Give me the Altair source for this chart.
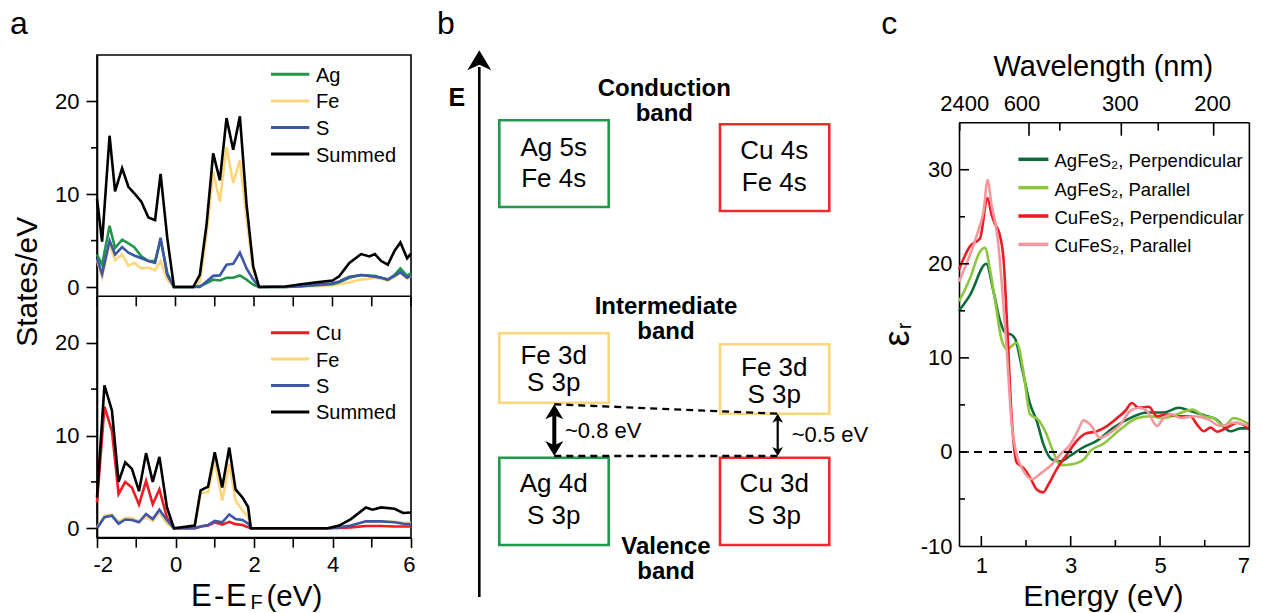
import altair as alt
import pandas as pd

FONT = "Liberation Sans"
ONE = pd.DataFrame({"k": [0]})

# ---------------- Panel a (top): AgFeS2 density of states ----------------
a1_E = [-2.0, -1.87, -1.68, -1.54, -1.36, -1.2, -1.05, -0.87, -0.69, -0.52, -0.38, -0.21, -0.04,
        0.45, 0.62, 0.79, 0.96, 1.13, 1.3, 1.47, 1.64, 1.81, 1.98, 2.13,
        2.8, 3.2, 3.6, 4.0, 4.17, 4.43, 4.73, 4.94, 5.08, 5.24, 5.41, 5.58, 5.73, 5.9, 6.0]
a1_Sum = [9.5, 4.9, 16.3, 10.3, 12.8, 10.8, 10.1, 9.2, 7.5, 7.2, 12.2, 5.3, 0,
          0, 1.3, 6.7, 14.4, 11.5, 18.2, 14.8, 18.4, 8.9, 2.2, 0,
          0.05, 0.3, 0.5, 0.7, 1.15, 2.6, 3.55, 3.3, 3.55, 2.8, 2.4, 3.9, 4.8, 3.1, 3.6]
a1_Ag = [3.5, 2.4, 6.6, 4.2, 5.1, 4.7, 4.3, 3.3, 2.8, 2.8, 5.1, 1.5, 0,
         0, 0.1, 0.4, 0.8, 0.7, 1.0, 1.0, 1.25, 0.8, 0.25, 0,
         0.0, 0.1, 0.2, 0.3, 0.5, 1.0, 1.3, 1.2, 1.2, 1.0, 0.8, 1.3, 2.0, 1.2, 1.5]
a1_Fe = [2.9, 1.1, 4.6, 2.9, 3.5, 2.3, 2.6, 2.0, 2.1, 1.8, 2.8, 0.8, 0,
         0, 0.6, 5.6, 12.4, 9.2, 15.1, 11.2, 13.7, 7.4, 1.7, 0,
         0.0, 0.05, 0.1, 0.2, 0.3, 0.5, 0.8, 0.9, 1.0, 0.9, 0.7, 1.1, 1.5, 0.9, 1.2]
a1_S = [3.1, 1.4, 5.0, 3.5, 4.3, 3.7, 3.4, 3.1, 2.8, 2.6, 5.3, 1.3, 0,
        0, 0, 0.6, 1.2, 1.25, 2.4, 2.5, 3.7, 2.0, 0.8, 0,
        0.0, 0.1, 0.25, 0.4, 0.6, 1.1, 1.3, 1.2, 1.1, 1.0, 0.8, 1.2, 1.6, 1.0, 1.2]

# ---------------- Panel a (bottom): CuFeS2 density of states ----------------
a2_E = [-2.0, -1.81, -1.62, -1.45, -1.28, -1.11, -0.93, -0.75, -0.58, -0.41, -0.22, -0.04,
        0.49, 0.64, 0.83, 1.0, 1.19, 1.37, 1.53, 1.71, 1.85, 1.92,
        3.88, 4.17, 4.47, 4.85, 5.02, 5.24, 5.58, 5.8, 6.0]
a2_Sum = [3.3, 15.4, 12.7, 5.0, 7.1, 6.4, 4.0, 8.1, 5.0, 7.7, 2.3, 0,
          0.3, 4.1, 4.5, 8.2, 4.4, 8.7, 4.2, 3.3, 2.3, 0,
          0, 0.3, 1.0, 2.25, 2.0, 2.25, 2.1, 1.65, 1.7]
a2_Cu = [2.8, 13.1, 10.5, 3.7, 5.0, 4.4, 2.55, 5.1, 2.6, 4.2, 1.2, 0,
         0, 0.2, 0.3, 0.65, 0.4, 0.7, 0.45, 0.35, 0.1, 0,
         0, 0.05, 0.1, 0.25, 0.25, 0.25, 0.2, 0.2, 0.2]
a2_Fe = [0.1, 1.35, 1.5, 0.7, 1.1, 1.1, 0.8, 1.2, 0.8, 1.7, 0.5, 0,
         0, 3.8, 3.9, 7.3, 3.0, 6.9, 3.0, 1.9, 1.2, 0,
         0, 0.1, 0.3, 0.7, 0.75, 0.75, 0.7, 0.6, 0.6]
a2_S = [0, 1.2, 1.35, 0.5, 0.95, 0.9, 0.65, 1.55, 1.0, 2.0, 0.9, 0,
        0, 0.2, 0.35, 0.8, 0.65, 1.5, 1.0, 0.9, 0.5, 0,
        0, 0.1, 0.3, 0.75, 0.75, 0.75, 0.65, 0.5, 0.45]

a_top_names = ["Ag", "Fe", "S", "Summed"]
a_bot_names = ["Cu", "Fe", "S", "Summed"]
a_colors = {"Ag": "#21964b", "Cu": "#ed1c24", "Fe": "#fdd67c", "S": "#3b57a6", "Summed": "#000000"}

a_xmajor = [-2, 0, 2, 4, 6]
a_xminor = [-1, 1, 3, 5]
a_xall = [-2, -1, 0, 1, 2, 3, 4, 5, 6]
a_ymajor = [0, 10, 20]
a_yminor = [5, 15]

# ---------------- Panel c: dielectric function ----------------
c_names = ["AgFeS\u2082, Perpendicular", "AgFeS\u2082, Parallel",
           "CuFeS\u2082, Perpendicular", "CuFeS\u2082, Parallel"]
c_colors = ["#0b6b39", "#8cc63f", "#ed1c24", "#f4979c"]
c1_E = [0.5, 0.75, 1.11, 1.27, 1.42, 1.55, 1.66, 1.76, 1.91, 2.09, 2.24, 2.39, 2.58, 2.77, 2.99,
        3.29, 3.59, 3.96, 4.33, 4.71, 5.08, 5.42, 5.68, 5.98, 6.24, 6.58, 6.8, 7.0]
c1_eps = [15.0, 16.7, 20.0, 17.1, 13.9, 12.6, 12.5, 12.0, 8.9, 5.1, 3.3, 0.8, -0.8, -1.0, -0.4,
          0.5, 1.2, 2.6, 3.6, 4.2, 4.2, 4.7, 4.35, 3.9, 3.5, 2.2, 2.5, 2.5]
c2_E = [0.5, 0.75, 0.97, 1.08, 1.2, 1.31, 1.46, 1.58, 1.68, 1.79, 1.94, 2.09, 2.28, 2.43, 2.62,
        2.77, 3.03, 3.29, 3.44, 3.74, 4.11, 4.49, 4.78, 5.08, 5.38, 5.72, 5.98, 6.2, 6.43, 6.65, 7.0]
c2_eps = [16.0, 18.5, 21.3, 21.7, 19.2, 16.0, 11.8, 10.9, 11.25, 11.6, 8.6, 4.0, 3.4, 2.2, -0.1,
          -1.4, -1.3, -0.8, 0.1, 0.9, 2.4, 3.6, 3.8, 3.6, 4.0, 4.5, 3.8, 3.6, 2.75, 3.6, 2.9]
c3_E = [0.5, 0.75, 0.97, 1.14, 1.23, 1.31, 1.4, 1.5, 1.58, 1.68, 1.79, 1.94, 2.09, 2.24, 2.38,
        2.51, 2.69, 2.92, 3.14, 3.33, 3.59, 3.81, 4.04, 4.22, 4.37, 4.52, 4.75, 4.93, 5.16, 5.38,
        5.68, 5.83, 5.98, 6.13, 6.28, 6.5, 6.73, 7.0]
c3_eps = [19.4, 21.9, 22.7, 27.0, 25.2, 24.2, 23.3, 20.3, 13.2, 3.6, -1.1, -1.7, -2.7, -4.0, -4.3,
          -3.4, -1.8, -0.25, 1.2, 1.95, 2.2, 2.75, 3.6, 4.35, 5.2, 4.7, 4.8, 3.8, 4.0, 3.8,
          3.8, 2.9, 2.2, 2.6, 2.15, 2.6, 3.1, 2.4]
c4_E = [0.5, 0.75, 0.93, 1.05, 1.14, 1.23, 1.35, 1.46, 1.57, 1.68, 1.79, 1.94, 2.13, 2.35, 2.54,
        2.77, 2.99, 3.14, 3.29, 3.44, 3.66, 3.89, 4.11, 4.33, 4.52, 4.71, 4.93, 5.08, 5.27, 5.46,
        5.76, 6.06, 6.35, 6.65, 7.0]
c4_eps = [18.1, 21.0, 23.5, 25.6, 28.9, 26.2, 23.3, 17.8, 10.7, 2.9, -0.25, -2.0, -2.9, -2.2, -1.5,
          -0.25, 0.8, 2.05, 3.35, 2.9, 1.5, 2.05, 2.9, 4.35, 4.7, 4.35, 2.75, 3.6, 4.0, 3.6,
          3.8, 3.5, 2.75, 3.1, 2.75]
c_series = [(c1_E, c1_eps), (c2_E, c2_eps), (c3_E, c3_eps), (c4_E, c4_eps)]

c_ymajor = [-10, 0, 10, 20, 30]
c_ytick_major = [0, 10, 20, 30]
c_ytick_minor = [-5, 5, 15, 25]
c_xmajor = [1, 3, 5, 7]
c_xtick_major = [1, 3, 5]
c_xtick_minor = [2, 4, 6]
c_wl_labels = [2400, 600, 300, 200]
c_wl_label_dx = [5, -7, -1, -1]
c_wl_tick_major = [600, 300, 200]
c_wl_tick_minor = [2400, 450, 250]

# ---------------- Panel b: band schematic (diagram coordinates) ----------------
b_box_x1 = [498.3, 719.0, 498.3, 719.0, 498.3, 719.0]
b_box_x2 = [607.7, 828.3, 607.7, 828.3, 607.7, 828.3]
b_box_y1 = [119.3, 123.3, 332.3, 343.3, 456.7, 456.7]
b_box_y2 = [206.0, 210.0, 401.7, 412.7, 544.0, 544.0]
b_box_col = ["#1f9a48", "#ee2a2f", "#fcd67a", "#fcd67a", "#1f9a48", "#ee2a2f"]
b_txt = ["Ag 5s", "Fe 4s", "Cu 4s", "Fe 4s", "Fe 3d", "S 3p", "Fe 3d", "S 3p",
         "Ag 4d", "S 3p", "Cu 3d", "S 3p"]
b_txt_x = [552.7, 552.7, 773.3, 773.3, 552.7, 552.7, 773.3, 773.3, 552.7, 552.7, 773.3, 773.3]
b_txt_y = [146.5, 178.2, 149.8, 181.5, 354.8, 382.3, 366.5, 393.7, 483.2, 514.8, 483.2, 514.8]
b_head = ["Conduction", "band", "Intermediate", "band", "Valence", "band"]
b_head_x = [663.3, 663.3, 665.0, 665.0, 665.0, 665.0]
b_head_y = [88.2, 112.8, 306.2, 331.2, 546.2, 570.6]
b_gap = ["~0.8 eV", "~0.5 eV"]
b_gap_x = [564.0, 790.7]
b_gap_y = [430.2, 434.3]
b_dash_x = [553.3, 553.3]
b_dash_y = [403.3, 455.0]
b_dash_x2 = [776.7, 776.7]
b_dash_y2 = [412.7, 455.0]

# ---------------- layout constants ----------------
WA, HS = 314.0, 241.3
HA = 2 * HS
WB, HB = 487.3, 546.0
WC, HC, YT = 290.4, 491.0, 67.7

UP = "M0,-1L1.2,1L0,0.45L-1.2,1Z"
DOWN = "M0,1L1.2,-1L0,-0.45L-1.2,-1Z"


def txt(x, y, s, size, **kw):
    return alt.Chart(ONE).mark_text(text=s, fontSize=size, font=FONT, color="black", **kw).encode(
        x=alt.value(x), y=alt.value(y))


def vrule(x, y1, y2, color="black", width=1.6):
    return alt.Chart(ONE).mark_rule(color=color, strokeWidth=width).encode(
        x=alt.value(x), y=alt.value(y1), y2=alt.value(y2))


def hrule(x1, x2, y, color="black", width=1.6):
    return alt.Chart(ONE).mark_rule(color=color, strokeWidth=width).encode(
        x=alt.value(x1), x2=alt.value(x2), y=alt.value(y))


# ---------------- panel a ----------------
xa = alt.Scale(domain=[-2, 6], nice=False, zero=False)
xaxis_a = alt.Axis(orient="bottom", values=a_xmajor, labelExpr="''+datum.value", tickSize=10,
                   labelPadding=7, labelFlushOffset=4, title=None)


def a_sub(E, series, names, y0, bottom, leg_y0, leg_dy):
    ys = alt.Scale(domain=[-1, 25], range=[y0 + HS, y0], nice=False, zero=False)
    yaxis = alt.Axis(orient="left", values=a_ymajor, labelExpr="''+datum.value", tickSize=11,
                     labelPadding=7, title=None)
    order = [names[1], names[0], names[2], names[3]]
    layers = []
    for nm in order:
        df = pd.DataFrame({"E": E, "v": series[nm]})
        layers.append(alt.Chart(df).mark_line(color=a_colors[nm], strokeWidth=2.6).encode(
            x=alt.X("E:Q", scale=xa, axis=xaxis_a),
            y=alt.Y("v:Q", scale=ys, axis=yaxis)))
    layers.append(alt.Chart(pd.DataFrame({"t": a_yminor})).mark_rule(color="black", strokeWidth=1.6).encode(
        y=alt.Y("t:Q", scale=ys, axis=yaxis), x=alt.value(0), x2=alt.value(-6)))
    if bottom:
        layers.append(alt.Chart(pd.DataFrame({"t": a_xminor})).mark_rule(color="black", strokeWidth=1.6).encode(
            x=alt.X("t:Q", scale=xa, axis=xaxis_a), y=alt.value(HA), y2=alt.value(HA + 10)))
    else:
        layers.append(alt.Chart(pd.DataFrame({"t": a_xall})).mark_rule(color="black", strokeWidth=1.6).encode(
            x=alt.X("t:Q", scale=xa, axis=xaxis_a), y=alt.value(HS), y2=alt.value(HS + 10)))
        layers.append(hrule(0, WA, HS))
    for i, nm in enumerate(names):
        ly = leg_y0 + i * leg_dy
        layers.append(hrule(174, 212.3, ly, color=a_colors[nm], width=3))
        layers.append(txt(219, ly + 1.5, nm, 20, align="left", baseline="middle"))
    return layers


top_series = {"Ag": a1_Ag, "Fe": a1_Fe, "S": a1_S, "Summed": a1_Sum}
bot_series = {"Cu": a2_Cu, "Fe": a2_Fe, "S": a2_S, "Summed": a2_Sum}

top_layers = a_sub(a1_E, top_series, a_top_names, 0, False, 19.3, 26.6)
top_layers += [
    alt.Chart(ONE).mark_point(size=1, opacity=0, strokeWidth=0, filled=True).encode(
        x=alt.value(-95.5), y=alt.value(-53.5)),
    txt(-78, -21, "a", 32, align="center", baseline="alphabetic"),
    txt(-69.3, 226.8, "States/eV", 30, align="center", baseline="middle", angle=270),
]
bot_layers = a_sub(a2_E, bot_series, a_bot_names, HS, True, 277.7, 26.4)
bot_layers += [
    txt(94.0, 551, "E", 31, align="left", baseline="alphabetic"),
    txt(117.0, 551, "-", 31, align="left", baseline="alphabetic"),
    txt(129.0, 551, "E", 31, align="left", baseline="alphabetic"),
    txt(153.5, 554, "F", 20, align="left", baseline="alphabetic"),
    txt(169.5, 551, "(eV)", 29.5, align="left", baseline="alphabetic"),
]

panel_a = alt.layer(alt.layer(*top_layers), alt.layer(*bot_layers)).resolve_scale(
    y="independent").properties(width=WA, height=HA,
                                view=alt.ViewBackground(stroke="black", strokeWidth=1.6))

# ---------------- panel b ----------------
bx = alt.Scale(domain=[440, 440 + WB], nice=False, zero=False)
by = alt.Scale(domain=[54, 54 + HB], nice=False, zero=False, reverse=True)


def bX(f):
    return alt.X(f, scale=bx, axis=None)


def bY(f):
    return alt.Y(f, scale=by, axis=None)


boxes = pd.DataFrame({"x1": b_box_x1, "x2": b_box_x2, "y1": b_box_y1, "y2": b_box_y2, "c": b_box_col})
b_layers = [
    alt.Chart(boxes).mark_rect(fillOpacity=0, strokeWidth=2.6).encode(
        x=bX("x1:Q"), x2="x2:Q", y=bY("y1:Q"), y2="y2:Q", stroke=alt.Stroke("c:N", scale=None)),
    alt.Chart(pd.DataFrame({"x": b_txt_x, "y": b_txt_y, "t": b_txt})).mark_text(
        font=FONT, fontSize=26, align="center", baseline="middle", color="black").encode(
        x=bX("x:Q"), y=bY("y:Q"), text="t:N"),
    alt.Chart(pd.DataFrame({"x": b_head_x, "y": b_head_y, "t": b_head})).mark_text(
        font=FONT, fontSize=24, fontWeight="bold", align="center", baseline="middle", color="black").encode(
        x=bX("x:Q"), y=bY("y:Q"), text="t:N"),
    alt.Chart(pd.DataFrame({"x": b_gap_x, "y": b_gap_y, "t": b_gap})).mark_text(
        font=FONT, fontSize=22, align="left", baseline="middle", color="black").encode(
        x=bX("x:Q"), y=bY("y:Q"), text="t:N"),
    alt.Chart(pd.DataFrame({"x": b_dash_x, "y": b_dash_y, "x2": b_dash_x2, "y2": b_dash_y2})).mark_rule(
        strokeDash=[7, 5], strokeWidth=2.4, color="black").encode(
        x=bX("x:Q"), y=bY("y:Q"), x2="x2:Q", y2="y2:Q"),
    # energy axis
    alt.Chart(pd.DataFrame({"x": [478.3], "y": [66.0], "y2": [596.0]})).mark_rule(
        strokeWidth=2.6, color="black").encode(x=bX("x:Q"), y=bY("y:Q"), y2="y2:Q"),
    alt.Chart(pd.DataFrame({"x": [478.3], "y": [59.3]})).mark_point(
        shape=UP, filled=True, size=400, color="black", opacity=1, strokeWidth=0).encode(x=bX("x:Q"), y=bY("y:Q")),
    alt.Chart(pd.DataFrame({"x": [455.8], "y": [96.5]})).mark_text(
        text="E", font=FONT, fontSize=25, fontWeight="bold", align="center", baseline="middle", color="black").encode(
        x=bX("x:Q"), y=bY("y:Q")),
    # gap arrows
    alt.Chart(pd.DataFrame({"x": [553.3], "y": [412.0], "y2": [446.0]})).mark_rule(
        strokeWidth=4, color="black").encode(x=bX("x:Q"), y=bY("y:Q"), y2="y2:Q"),
    alt.Chart(pd.DataFrame({"x": [553.3], "y": [410.8]})).mark_point(
        shape=UP, filled=True, size=225, color="black", opacity=1, strokeWidth=0).encode(x=bX("x:Q"), y=bY("y:Q")),
    alt.Chart(pd.DataFrame({"x": [553.3], "y": [447.5]})).mark_point(
        shape=DOWN, filled=True, size=225, color="black", opacity=1, strokeWidth=0).encode(x=bX("x:Q"), y=bY("y:Q")),
    alt.Chart(pd.DataFrame({"x": [776.7], "y": [416.0], "y2": [452.0]})).mark_rule(
        strokeWidth=2.2, color="black").encode(x=bX("x:Q"), y=bY("y:Q"), y2="y2:Q"),
    alt.Chart(pd.DataFrame({"x": [776.7], "y": [417.2]})).mark_point(
        shape=UP, filled=True, size=81, color="black", opacity=1, strokeWidth=0).encode(x=bX("x:Q"), y=bY("y:Q")),
    alt.Chart(pd.DataFrame({"x": [776.7], "y": [450.5]})).mark_point(
        shape=DOWN, filled=True, size=81, color="black", opacity=1, strokeWidth=0).encode(x=bX("x:Q"), y=bY("y:Q")),
    alt.Chart(pd.DataFrame({"x": [445.0], "y": [33.0]})).mark_text(
        text="b", font=FONT, fontSize=32, align="center", baseline="alphabetic", color="black").encode(
        x=bX("x:Q"), y=bY("y:Q")),
]
panel_b = alt.layer(*b_layers).properties(width=WB, height=HB)

# ---------------- panel c ----------------
xc = alt.Scale(domain=[0.5, 7], nice=False, zero=False)
yc = alt.Scale(domain=[-10, 35], range=[HC, YT], nice=False, zero=False)
xaxis_c = alt.Axis(orient="bottom", values=c_xmajor, labelExpr="''+datum.value", ticks=False,
                   labelPadding=9, title=None)
yaxis_c = alt.Axis(orient="left", values=c_ymajor, labelExpr="''+datum.value", ticks=False,
                   labelPadding=7, title=None)

c_layers = []
for (E, eps), col in zip(c_series, c_colors):
    df = pd.DataFrame({"E": E, "eps": eps})
    c_layers.append(alt.Chart(df).mark_line(color=col, strokeWidth=2.6, interpolate="monotone").encode(
        x=alt.X("E:Q", scale=xc, axis=xaxis_c), y=alt.Y("eps:Q", scale=yc, axis=yaxis_c)))

c_layers.append(alt.Chart(pd.DataFrame({"z": [0]})).mark_rule(
    strokeDash=[8, 7], strokeWidth=2, color="black").encode(
    y=alt.Y("z:Q", scale=yc, axis=yaxis_c), x=alt.value(0), x2=alt.value(WC)))
for vals, L in [(c_ytick_major, 10), (c_ytick_minor, 6)]:
    c_layers.append(alt.Chart(pd.DataFrame({"t": vals})).mark_rule(color="black", strokeWidth=1.6).encode(
        y=alt.Y("t:Q", scale=yc, axis=yaxis_c), x=alt.value(0), x2=alt.value(L)))
for vals, L in [(c_xtick_major, 10), (c_xtick_minor, 6)]:
    c_layers.append(alt.Chart(pd.DataFrame({"t": vals})).mark_rule(color="black", strokeWidth=1.6).encode(
        x=alt.X("t:Q", scale=xc, axis=xaxis_c), y=alt.value(HC), y2=alt.value(HC - L)))
for vals, L in [(c_wl_tick_major, 13), (c_wl_tick_minor, 8)]:
    c_layers.append(alt.Chart(pd.DataFrame({"wl": vals})).transform_calculate(
        E="1240 / datum.wl").mark_rule(color="black", strokeWidth=1.6).encode(
        x=alt.X("E:Q", scale=xc, axis=xaxis_c), y=alt.value(YT), y2=alt.value(YT + L)))
for wl, dx in zip(c_wl_labels, c_wl_label_dx):
    c_layers.append(alt.Chart(pd.DataFrame({"wl": [wl]})).transform_calculate(
        E="1240 / datum.wl").mark_text(text=str(wl), dx=dx, font=FONT, fontSize=22, align="center",
                                       baseline="alphabetic", color="black").encode(
        x=alt.X("E:Q", scale=xc, axis=xaxis_c), y=alt.value(56)))
c_layers += [
    hrule(0, WC, YT),
    vrule(WC, YT, HC),
    txt(144.4, 21, "Wavelength (nm)", 29, align="center", baseline="alphabetic"),
    txt(144.4, 551, "Energy (eV)", 30, align="center", baseline="alphabetic"),
    txt(-60.7, 283.5, "\u03b5", 36, align="center", baseline="middle", angle=270),
    txt(-54.1, 271.0, "r", 20, align="center", baseline="middle", angle=270),
    txt(-69.8, -21, "c", 32, align="center", baseline="alphabetic"),
]
for i, (nm, col) in enumerate(zip(c_names, c_colors)):
    ly = 104.3 + i * 28.35
    c_layers.append(hrule(59.4, 89.4, ly, color=col, width=3.5))
    c_layers.append(txt(95.5, ly + 2, nm, 18.5, align="left", baseline="middle"))

panel_c = alt.layer(*c_layers).properties(width=WC, height=HC)

chart = alt.hconcat(panel_a, panel_b, panel_c, spacing=30, bounds="flush", padding=0).configure_view(
    stroke="transparent").configure_axis(
    grid=False, domainColor="black", tickColor="black", domainWidth=1.6, tickWidth=1.6,
    labelFont=FONT, labelFontSize=22, labelColor="black", titleFont=FONT)

chart.save("out.html", embed_options={"renderer": "svg", "actions": False})
